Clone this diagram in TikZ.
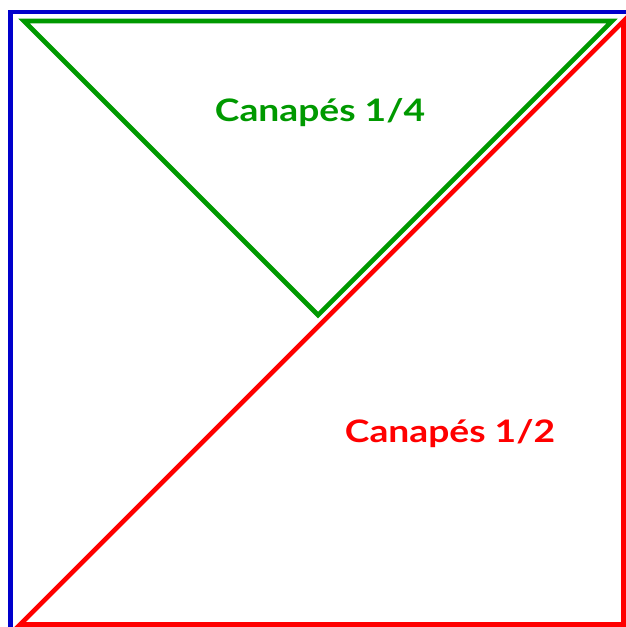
\documentclass[tikz,border=0pt]{standalone}
\usepackage{fontspec}
\setmainfont{Lato}
\newfontfamily\lblfont[FakeStretch=1.2]{Lato}
\usepackage{tikz}
\definecolor{cvBlue}{HTML}{0000CC}
\definecolor{cvGreen}{HTML}{009900}
\definecolor{cvRed}{HTML}{FF0000}
\tikzset{
  % Outline strokes
  edgeline/.style={line width=4.6pt,line join=miter},
  % Part labels
  partlbl/.style={font=\lblfont\fontsize{31}{36}\selectfont\bfseries},
}
\begin{document}
\begin{tikzpicture}[x=1pt,y=-1pt]
  \useasboundingbox (0,0) rectangle (625,627);

  % Blue square
  \draw[edgeline,cvBlue] (10.5,640) -- (10.5,12) -- (640,12);

  % Red triangle (half)
  \coordinate (rBL) at (20,624.5);
  \coordinate (rTR) at (623.5,21);
  \coordinate (rBR) at (623.5,624.5);
  \draw[edgeline,cvRed] (rBL) -- (rTR) -- (rBR) -- cycle;

  % Green triangle (quarter)
  \coordinate (gTL) at (24,21);
  \coordinate (gTR) at (612,21);
  \coordinate (gA) at (318,315);
  \draw[edgeline,cvGreen] (gTL) -- (gTR) -- (gA) -- cycle;

  % Labels
  \node[partlbl,text=cvGreen] (qlbl) at (320,113) {Canapés 1/4};
  \node[partlbl,text=cvRed] (hlbl) at (450,434) {Canapés 1/2};
\end{tikzpicture}
\end{document}
